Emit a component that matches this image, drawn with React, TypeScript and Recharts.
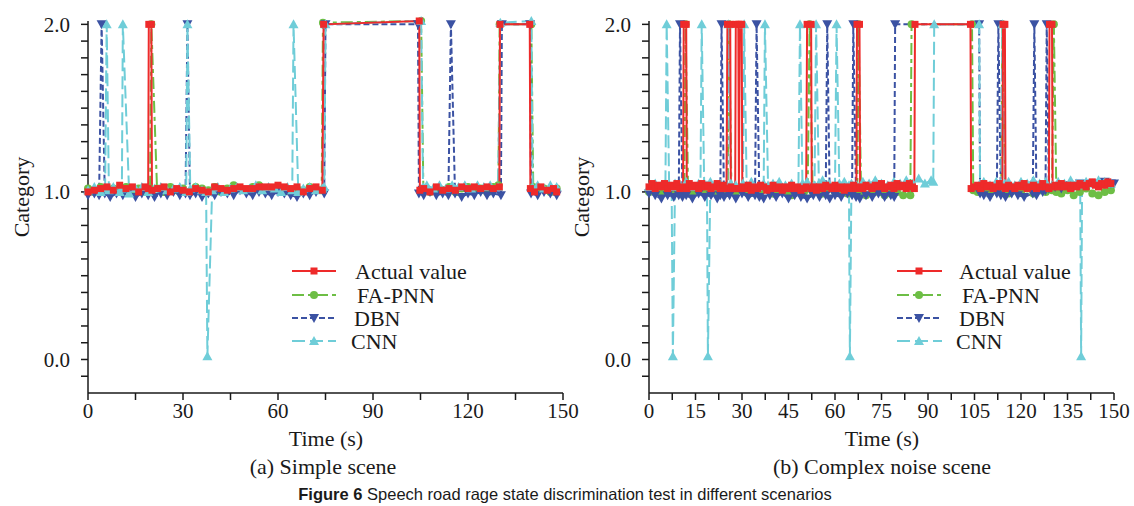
import React from 'react';
import { LineChart, Line, XAxis, YAxis } from 'recharts';

type Pt = [number, number];

// ---------- (a) Simple scene ----------
const simpleActual: Pt[] = [
  [0, 1.0], [2, 1.01], [4, 1.02], [6, 1.03], [8, 1.01], [10, 1.04], [12, 1.02], [14, 1.03], [16, 1.0], [18, 1.03],
  [19, 1.02], [19.2, 2.0], [20, 2.0], [20.2, 1.01], [22, 1.02], [24, 1.03], [26, 1.0], [28, 1.02], [30, 1.01],
  [32, 1.0], [34, 1.02], [36, 1.01], [38, 1.0], [40, 1.03], [42, 1.02], [44, 1.01], [46, 1.02], [48, 1.03],
  [50, 1.02], [52, 1.02], [54, 1.03], [56, 1.03], [58, 1.03], [60, 1.04], [62, 1.03], [64, 1.02], [66, 1.03],
  [68, 1.0], [70, 1.02], [72, 1.03], [74, 1.01], [74.4, 2.0], [104.6, 2.02], [104.8, 1.01], [106, 1.02],
  [108, 1.0], [110, 1.03], [112, 1.01], [114, 1.02], [116, 1.01], [118, 1.03], [120, 1.02], [122, 1.03],
  [124, 1.02], [126, 1.03], [128, 1.02], [129.9, 1.03], [130.1, 2.0], [139.5, 2.0], [139.7, 1.02], [141, 1.0],
  [143, 1.03], [145, 1.01], [147, 1.02], [148, 1.0],
];
const simpleFaPnn: Pt[] = [
  [0, 1.02], [2, 1.0], [4, 1.03], [6, 1.01], [8, 1.02], [10, 1.0], [12, 1.03], [14, 1.01], [16, 1.02], [18, 1.0],
  [19.6, 1.02], [20, 2.0], [21.8, 1.02], [24, 1.0], [26, 1.03], [28, 1.01], [30, 1.02], [32, 1.0], [34, 1.03],
  [36, 1.02], [38, 1.01], [40, 1.03], [42, 1.0], [44, 1.02], [46, 1.04], [48, 1.02], [50, 1.01], [52, 1.03],
  [54, 1.04], [56, 1.02], [58, 1.01], [60, 1.03], [62, 1.02], [64, 1.0], [66, 1.02], [68, 1.01], [70, 1.03],
  [72, 1.02], [73.8, 1.01], [74.2, 2.01], [105.2, 2.02], [105.9, 1.02], [108, 1.0], [110, 1.02], [112, 1.01],
  [114, 1.03], [116, 1.0], [118, 1.02], [120, 1.03], [122, 1.01], [124, 1.02], [126, 1.0], [128, 1.03],
  [129.6, 1.04], [130, 2.0], [140, 2.0], [140.6, 1.03], [142, 1.01], [144, 1.02], [146, 1.0], [148, 1.02],
];
const simpleDbn: Pt[] = [
  [0, 0.98], [2, 0.99], [3.5, 0.98], [4.3, 2.0], [5.3, 0.99], [7, 0.97], [9, 0.99], [11, 0.98], [13, 1.0],
  [15, 0.97], [17, 0.99], [19, 0.98], [21, 0.97], [23, 0.99], [25, 0.98], [27, 1.0], [29, 0.98], [30.8, 0.99],
  [31.4, 2.0], [32.2, 0.98], [34, 0.99], [36, 0.97], [38, 0.99], [40, 0.98], [42, 1.0], [44, 0.99], [46, 0.98],
  [48, 1.01], [50, 0.99], [52, 0.98], [54, 1.0], [56, 0.99], [58, 0.98], [60, 1.0], [62, 0.99], [64, 0.98],
  [66, 0.97], [68, 0.99], [70, 0.98], [72, 1.0], [74.6, 0.99], [75, 2.0], [104.2, 2.0], [104.5, 0.99],
  [106, 0.98], [108, 1.0], [110, 0.98], [112, 0.99], [113.8, 0.98], [114.6, 2.0], [115.9, 0.99], [118, 0.97],
  [120, 0.99], [122, 0.98], [124, 1.0], [126, 0.98], [128, 0.99], [130.4, 0.98], [130.7, 2.0], [139.6, 2.0],
  [139.9, 0.99], [142, 0.98], [144, 1.0], [146, 0.99], [148, 0.98],
];
const simpleCnn: Pt[] = [
  [0, 1.01], [2, 1.03], [4, 1.0], [5.4, 1.02], [5.9, 2.0], [6.6, 1.01], [8, 1.03], [10, 1.0], [10.7, 1.02],
  [11, 2.0], [13, 0.99], [15, 1.02], [17, 1.03], [19, 1.0], [21, 1.02], [23, 1.03], [25, 1.01], [27, 1.02],
  [29, 1.03], [31, 1.0], [31.4, 2.0], [32.3, 1.02], [34, 1.03], [36, 1.01], [37.3, 1.0], [37.7, 0.02],
  [39.2, 1.01], [41, 1.03], [43, 1.0], [45, 1.02], [47, 1.03], [49, 1.01], [51, 1.02], [53, 1.04], [55, 1.01],
  [57, 1.03], [59, 1.02], [61, 1.0], [63, 1.03], [64.5, 1.01], [64.9, 2.0], [66.4, 1.0], [68, 1.02], [70, 1.03],
  [72, 1.01], [74, 1.02], [74.6, 1.03], [75, 2.0], [105.2, 2.02], [105.8, 1.03], [107, 1.04], [109, 1.02],
  [111, 1.04], [113, 1.02], [115, 1.04], [117, 1.03], [119, 1.04], [121, 1.02], [123, 1.04], [125, 1.03],
  [127, 1.04], [129.5, 1.03], [130.2, 2.01], [140, 2.02], [140.4, 1.03], [142, 1.04], [144, 1.02], [146, 1.04],
  [148, 1.03],
];

// ---------- (b) Complex noise scene ----------
const complexActual: Pt[] = [
  [0, 1.03], [1, 1.05], [2, 1.02], [3, 1.04], [4, 1.03], [5, 1.05], [6, 1.02], [7, 1.04], [8, 1.03], [9, 1.05],
  [10, 1.02], [11, 1.03], [11.2, 2.0], [12, 2.0], [12.2, 1.02], [13, 1.05], [14, 1.03], [15, 1.04], [16, 1.02],
  [17, 1.05], [18, 1.03], [19, 1.04], [20, 1.02], [21, 1.03], [22, 1.05], [23, 1.02], [24, 1.04], [25, 1.02],
  [25.3, 2.0], [26.2, 2.0], [26.4, 1.03], [27, 1.02], [27.8, 1.02], [28.0, 2.0], [28.8, 2.0], [29.0, 1.02],
  [29.3, 2.0], [29.9, 2.0], [30.1, 1.03], [31, 1.02], [32, 1.04], [33, 1.01], [34, 1.03], [35, 1.02], [36, 1.04],
  [37, 1.03], [38, 1.01], [39, 1.02], [40, 1.04], [41, 1.02], [42, 1.03], [43, 1.01], [44, 1.03], [45, 1.02],
  [46, 1.04], [47, 1.02], [48, 1.03], [49, 1.01], [50, 1.02], [50.7, 1.03], [51.0, 2.0], [52.3, 2.0],
  [52.5, 1.02], [53, 1.03], [54, 1.01], [55, 1.03], [56, 1.02], [57, 1.04], [58, 1.03], [59, 1.02], [60, 1.04],
  [61, 1.02], [62, 1.03], [63, 1.01], [64, 1.03], [65, 1.02], [66, 1.04], [66.9, 1.02], [67.1, 2.0], [67.9, 2.0],
  [68.1, 1.03], [69, 1.02], [70, 1.04], [71, 1.03], [72, 1.02], [73, 1.04], [74, 1.03], [75, 1.05], [76, 1.02],
  [77, 1.03], [78, 1.04], [79, 1.02], [80, 1.05], [81, 1.03], [82, 1.04], [83, 1.02], [84, 1.05], [85, 1.03],
  [85.6, 1.02], [85.8, 2.0], [103.7, 2.0], [103.9, 1.02], [105, 1.03], [106, 1.04], [107, 1.02], [108, 1.05],
  [109, 1.03], [110, 1.04], [111, 1.02], [112, 1.03], [113, 1.05], [114, 1.03], [114.2, 2.0], [114.8, 2.0],
  [115, 1.02], [116, 1.04], [117, 1.03], [118, 1.02], [119, 1.04], [120, 1.03], [121, 1.05], [122, 1.02],
  [123, 1.03], [124, 1.04], [125, 1.02], [126, 1.03], [127, 1.05], [128, 1.03], [129, 1.02], [129.2, 2.0],
  [130, 2.0], [130.2, 1.03], [131, 1.04], [132, 1.03], [133, 1.05], [134, 1.03], [135, 1.04], [136, 1.02],
  [137, 1.04], [138, 1.03], [139, 1.05], [140, 1.04], [141, 1.03], [142, 1.05], [143, 1.06], [144, 1.04],
  [145, 1.03], [146, 1.05], [147, 1.04], [148, 1.06], [149, 1.05],
];
const complexFaPnn: Pt[] = [
  [0, 1.0], [2, 1.02], [4, 0.99], [6, 1.01], [8, 1.0], [10, 1.02], [11.4, 1.0], [11.8, 2.0], [12.6, 1.01],
  [14, 0.99], [16, 1.01], [18, 1.0], [20, 1.02], [22, 0.99], [24, 1.01], [25.4, 1.0], [25.8, 2.0], [26.6, 1.01],
  [28, 1.0], [30, 1.02], [32, 0.99], [34, 1.01], [36, 1.0], [38, 1.02], [40, 0.99], [42, 1.01], [44, 1.0],
  [46, 0.98], [48, 1.01], [50, 1.0], [51.2, 1.02], [51.8, 2.0], [52.8, 1.0], [54, 1.01], [56, 0.99], [58, 1.02],
  [60, 1.0], [62, 1.01], [64, 0.99], [66, 1.0], [67.2, 1.01], [67.6, 2.0], [68.4, 1.0], [70, 0.98], [72, 1.01],
  [74, 1.0], [76, 0.98], [78, 0.99], [80, 1.0], [82, 0.98], [84.3, 0.98], [84.7, 2.0], [104.2, 2.0],
  [104.6, 1.01], [106, 1.0], [108, 1.02], [110, 0.99], [112, 1.01], [113.6, 1.0], [114, 2.0], [114.9, 1.01],
  [116, 0.99], [118, 1.01], [120, 1.0], [122, 1.02], [124, 0.99], [126, 1.01], [128, 1.0], [130, 1.01],
  [130.6, 2.0], [131.4, 1.0], [133, 0.99], [135, 1.01], [137, 0.98], [139, 1.0], [141, 1.02], [143, 0.99],
  [145, 0.98], [147, 1.0], [149, 1.01],
];
const complexDbn: Pt[] = [
  [0, 0.99], [2, 0.98], [4, 0.96], [6, 0.98], [8, 0.97], [9.6, 0.98], [10, 2.0], [10.8, 0.97], [12, 0.98],
  [14, 0.96], [16, 0.99], [18, 0.97], [20, 0.98], [22, 0.96], [23, 0.98], [23.4, 2.0], [24.2, 0.97], [26, 0.98],
  [28, 0.96], [30, 0.99], [32, 0.97], [34.2, 0.98], [34.7, 2.0], [35.6, 0.97], [37, 0.96], [39, 0.98],
  [41, 0.97], [43, 0.99], [45, 0.96], [47, 0.98], [49, 0.97], [51, 0.96], [53, 0.98], [55, 0.97], [57, 0.98],
  [57.5, 2.0], [58.3, 0.96], [60, 0.98], [62, 0.97], [64, 0.99], [65.5, 0.98], [65.9, 2.0], [66.8, 0.97],
  [68, 0.96], [70, 0.98], [72, 0.97], [74, 0.99], [76, 0.97], [78, 0.98], [79.1, 0.97], [79.4, 2.0],
  [106.5, 2.0], [106.8, 0.99], [108, 0.98], [110, 0.97], [112.2, 0.99], [112.7, 2.0], [113.5, 0.98],
  [115, 0.97], [117, 0.99], [119, 0.98], [121, 0.97], [123.8, 0.99], [124.3, 2.0], [125, 0.98], [127, 1.0],
  [127.9, 1.01], [128.3, 2.0], [129, 1.02], [131, 1.03], [133, 1.02], [135, 1.04], [137, 1.03], [139, 1.05],
  [141, 1.04], [143, 1.05], [145, 1.04], [147, 1.06], [149, 1.05], [150, 1.05],
];
const complexCnn: Pt[] = [
  [0, 1.03], [2, 1.05], [4, 1.04], [5.3, 1.05], [5.7, 2.0], [6.5, 1.04], [7.3, 1.03], [7.7, 0.02], [8.4, 1.05],
  [10, 1.04], [12, 1.06], [14, 1.03], [16, 1.05], [16.6, 1.04], [17, 2.0], [17.8, 1.05], [18.7, 1.04],
  [19.0, 0.02], [19.8, 1.06], [21, 1.04], [23, 1.05], [25.2, 1.03], [25.6, 2.0], [26.4, 1.05], [28, 1.04],
  [30.3, 1.05], [30.7, 2.0], [31.5, 1.04], [33, 1.06], [35, 1.03], [37, 1.05], [37.4, 2.0], [38.4, 1.04],
  [40, 1.05], [42, 1.06], [44, 1.04], [46, 1.05], [48.2, 1.03], [48.7, 2.0], [49.5, 1.05], [51, 1.06],
  [53.4, 1.04], [53.9, 2.0], [54.8, 1.05], [56, 1.07], [58, 1.05], [60, 1.04], [60.5, 2.0], [61.4, 1.05],
  [63, 1.06], [64.5, 1.04], [64.8, 0.02], [65.3, 1.05], [67, 1.04], [69, 1.06], [71, 1.05], [73, 1.07],
  [75, 1.05], [77, 1.04], [79, 1.06], [81, 1.05], [83, 1.07], [85, 1.05], [87, 1.08], [89, 1.05], [91, 1.07],
  [91.7, 1.06], [92, 2.0], [106.5, 2.0], [106.8, 1.05], [108, 1.06], [110, 1.04], [112, 1.06], [113.6, 1.05],
  [114, 2.0], [114.8, 1.05], [116, 1.06], [118, 1.04], [120, 1.06], [122, 1.05], [124, 1.07], [126, 1.05],
  [128, 1.06], [130, 1.04], [132, 1.06], [134, 1.05], [136, 1.07], [138, 1.05], [139.1, 1.04], [139.4, 0.02],
  [139.7, 1.05], [141, 1.06], [143, 1.05], [145, 1.07], [147, 1.06], [149, 1.05],
];

// ---------- axes / labels ----------
const simpleXTicks = [0, 15, 30, 45, 60, 75, 90, 105, 120, 135, 150];
const simpleXLabelStep = 30;
const complexXTicks = [0, 7.5, 15, 22.5, 30, 37.5, 45, 52.5, 60, 67.5, 75, 82.5, 90, 97.5, 105, 112.5, 120, 127.5, 135, 142.5, 150];
const complexXLabelStep = 15;
const yTicks = [-0.1, 0, 0.1, 0.2, 0.3, 0.4, 0.5, 0.6, 0.7, 0.8, 0.9, 1, 1.1, 1.2, 1.3, 1.4, 1.5, 1.6, 1.7, 1.8, 1.9, 2];
const yDomain: [number, number] = [-0.2, 2.02];
const seriesNames = ['Actual value', 'FA-PNN', 'DBN', 'CNN'];
const xTitle = 'Time (s)';
const yTitle = 'Category';
const subtitles = ['(a) Simple scene', '(b) Complex noise scene'];
const captionBold = 'Figure 6';
const captionRest = ' Speech road rage state discrimination test in different scenarios';

// ---------- styles ----------
const SERIF = '"Liberation Serif", "Times New Roman", Times, serif';
const SANS = '"Liberation Sans", Arial, Helvetica, sans-serif';
const INK = '#1a1a1a';
type Shape = 'square' | 'circle' | 'down' | 'up';
const seriesStyles: { color: string; dash?: string; shape: Shape }[] = [
  { color: '#EE2A2A', dash: undefined, shape: 'square' },
  { color: '#6DBE45', dash: '12 4 4 4', shape: 'circle' },
  { color: '#3B52A3', dash: '6 3', shape: 'down' },
  { color: '#6FCDD8', dash: '13 5', shape: 'up' },
];

function Marker({ shape, cx, cy, color }: { shape: Shape; cx: number; cy: number; color: string }) {
  if (shape === 'square') return <rect x={cx - 3.5} y={cy - 3.5} width={7} height={7} fill={color} />;
  if (shape === 'circle') return <circle cx={cx} cy={cy} r={4} fill={color} />;
  if (shape === 'down')
    return <polygon points={`${cx - 5},${cy - 4} ${cx + 5},${cy - 4} ${cx},${cy + 5}`} fill={color} />;
  return <polygon points={`${cx - 5},${cy + 4} ${cx + 5},${cy + 4} ${cx},${cy - 5}`} fill={color} />;
}

const dotRenderer = (shape: Shape, color: string) => (props: any) => {
  const { cx, cy, index } = props;
  if (cx == null || cy == null || Number.isNaN(cx) || Number.isNaN(cy)) return <g key={`e${index}`} />;
  return <Marker key={`m${index}`} shape={shape} cx={cx} cy={cy} color={color} />;
};

const toRows = (pts: Pt[]) => pts.map(([t, v]) => ({ t, v }));

function LegendBlock({ lineX0, lineX1, markX, textX }: { lineX0: number; lineX1: number; markX: number; textX: number[] }) {
  const rowsY = [271, 295, 318, 341];
  return (
    <svg width={1134} height={506} style={{ position: 'absolute', left: 0, top: 0, pointerEvents: 'none' }}>
      {seriesNames.map((name, i) => {
        const s = seriesStyles[i];
        const y = rowsY[i];
        return (
          <g key={name}>
            <line x1={lineX0} x2={lineX1} y1={y} y2={y} stroke={s.color} strokeWidth={2} strokeDasharray={s.dash} />
            <Marker shape={s.shape} cx={markX} cy={y} color={s.color} />
            <text x={textX[i]} y={y} dy="0.35em" fontFamily={SERIF} fontSize={22} fill={INK}>
              {name}
            </text>
          </g>
        );
      })}
    </svg>
  );
}

function Panel({
  left,
  width,
  plotLeft,
  plotRight,
  xTicks,
  labelStep,
  series,
}: {
  left: number;
  width: number;
  plotLeft: number;
  plotRight: number;
  xTicks: number[];
  labelStep: number;
  series: Pt[][];
}) {
  const yAxisWidth = 60;
  const height = 430;
  const xAxisHeight = 30;
  const plotBottom = 393;
  const margin = {
    top: 21,
    right: width - (plotRight - left),
    bottom: height - xAxisHeight - plotBottom,
    left: plotLeft - left - yAxisWidth,
  };
  const order = [1, 2, 3, 0];
  return (
    <div style={{ position: 'absolute', left, top: 0 }}>
      <LineChart width={width} height={height} margin={margin}>
        <XAxis
          type="number"
          dataKey="t"
          domain={[0, 150]}
          ticks={xTicks}
          interval={0}
          height={xAxisHeight}
          tickSize={7}
          tickMargin={3}
          axisLine={{ stroke: INK, strokeWidth: 1.5 }}
          tickLine={{ stroke: INK, strokeWidth: 1.5 }}
          tick={{ fill: INK, fontSize: 21, fontFamily: SERIF }}
          tickFormatter={(v: number) => (Math.abs(v / labelStep - Math.round(v / labelStep)) < 1e-9 ? String(v) : '')}
        />
        <YAxis
          type="number"
          domain={yDomain}
          ticks={yTicks}
          interval={0}
          width={yAxisWidth}
          tickSize={7}
          tickMargin={11}
          axisLine={{ stroke: INK, strokeWidth: 1.5 }}
          tickLine={{ stroke: INK, strokeWidth: 1.5 }}
          tick={{ fill: INK, fontSize: 21, fontFamily: SERIF }}
          tickFormatter={(v: number) => (Math.abs(v - Math.round(v)) < 1e-9 ? v.toFixed(1) : '')}
        />
        {order.map((i) => {
          const s = seriesStyles[i];
          return (
            <Line
              key={seriesNames[i]}
              name={seriesNames[i]}
              type="linear"
              data={toRows(series[i])}
              dataKey="v"
              stroke={s.color}
              strokeWidth={2}
              strokeDasharray={s.dash}
              dot={dotRenderer(s.shape, s.color)}
              activeDot={false}
              isAnimationActive={false}
            />
          );
        })}
      </LineChart>
    </div>
  );
}

const textStyle = (x: number, y: number, size: number, family = SERIF): React.CSSProperties => ({
  position: 'absolute',
  left: x,
  top: y,
  transform: 'translate(-50%, -50%)',
  fontFamily: family,
  fontSize: size,
  color: INK,
  whiteSpace: 'nowrap',
  lineHeight: 1,
});

export default function App() {
  return (
    <div style={{ position: 'absolute', left: 0, top: 0, width: 1134, height: 506, background: '#fff', overflow: 'hidden' }}>
      <Panel
        left={0}
        width={580}
        plotLeft={88}
        plotRight={563}
        xTicks={simpleXTicks}
        labelStep={simpleXLabelStep}
        series={[simpleActual, simpleFaPnn, simpleDbn, simpleCnn]}
      />
      <Panel
        left={560}
        width={574}
        plotLeft={649}
        plotRight={1114}
        xTicks={complexXTicks}
        labelStep={complexXLabelStep}
        series={[complexActual, complexFaPnn, complexDbn, complexCnn]}
      />
      <LegendBlock lineX0={292} lineX1={336} markX={314} textX={[355, 357, 354, 351]} />
      <LegendBlock lineX0={897} lineX1={942} markX={919} textX={[959, 962, 959, 956]} />

      <div style={textStyle(326, 439, 22)}>{xTitle}</div>
      <div style={textStyle(882, 439, 22)}>{xTitle}</div>
      <div style={{ ...textStyle(22, 197, 22), transform: 'translate(-50%, -50%) rotate(-90deg)' }}>{yTitle}</div>
      <div style={{ ...textStyle(582, 197, 22), transform: 'translate(-50%, -50%) rotate(-90deg)' }}>{yTitle}</div>
      <div style={textStyle(323, 467, 22)}>{subtitles[0]}</div>
      <div style={textStyle(882, 467, 22)}>{subtitles[1]}</div>
      <div style={textStyle(565, 494, 16.5, SANS)}>
        <b>{captionBold}</b>
        {captionRest}
      </div>
    </div>
  );
}
